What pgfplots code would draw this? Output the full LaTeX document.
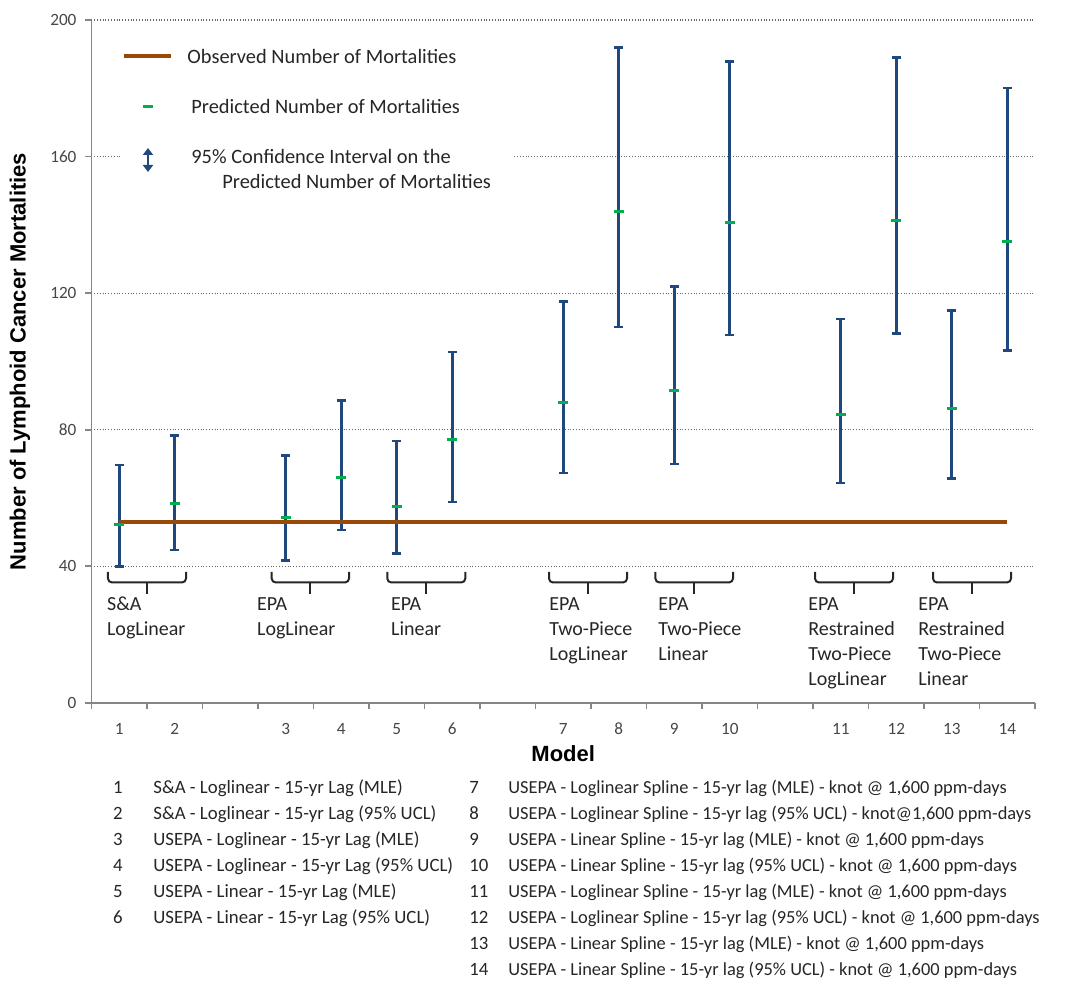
\documentclass[border=0pt]{standalone}
\usepackage{fontspec}
\setmainfont{Carlito}
\newfontfamily\arialfont{Liberation Sans}
\usepackage{pgfplots}
\usepackage{pgfplotstable}
\pgfplotsset{compat=1.18}
\usetikzlibrary{arrows.meta}
\definecolor{ebblue}{RGB}{31,73,125}
\definecolor{pgreen}{RGB}{0,176,80}
\definecolor{obsbrown}{RGB}{152,72,7}
\definecolor{axgray}{RGB}{134,134,134}
\definecolor{txt}{RGB}{38,38,38}
\definecolor{ticktxt}{RGB}{70,70,70}

% x = position on the category axis (empty slots at 3, 8, 13)
% pred = predicted, lo/hi = 95% confidence interval
\pgfplotstableread{
x  pred   lo     hi
1  52.2   39.9   69.7
2  58.5   44.8   78.4
4  54.3   41.7   72.5
5  66.1   50.6   88.5
6  57.4   43.7   76.7
7  77.1   58.9   102.8
9  88.0   67.3   117.5
10 143.9  110.1  191.9
11 91.5   70.0   122.0
12 140.6  107.8  187.9
14 84.4   64.4   112.5
15 141.4  108.2  189.0
16 86.2   65.8   114.9
17 135.0  103.2  180.1
}\datatable

\begin{document}
\begin{tikzpicture}
\begin{axis}[
  scale only axis,
  width=471.75pt, height=341.5pt,
  xmin=0.5, xmax=17.5, ymin=0, ymax=200,
  axis x line*=bottom, axis y line*=left,
  axis line style={axgray, line width=0.9pt, -},
  tick style={axgray, line width=0.9pt},
  tick align=outside,
  major tick length=3pt,
  xtick={0.5,1.5,...,17.5},
  xticklabels={},
  extra x ticks={1,2,4,5,6,7,9,10,11,12,14,15,16,17},
  extra x tick labels={1,2,3,4,5,6,7,8,9,10,11,12,13,14},
  extra x tick style={major tick length=0pt, grid=none},
  ytick={0,40,...,200},
  ymajorgrids,
  grid style={densely dotted, gray!80!black, line width=0.6pt},
  /pgf/number format/assume math mode=true,
  ticklabel style={font=\fontsize{8.6}{10}\selectfont, text=ticktxt},
  yticklabel style={xshift=-1pt},
  xticklabel style={yshift=-6.5pt},
  xlabel={Model},
  ylabel={Number of Lymphoid Cancer Mortalities},
  xlabel style={font=\arialfont\bfseries\fontsize{11}{13}\selectfont, at={(axis description cs:0.5,0)}, anchor=center, yshift=-25.5pt},
  ylabel style={font=\arialfont\bfseries\fontsize{11}{13}\selectfont, at={(axis description cs:0,0.5)}, anchor=center, yshift=35.75pt},
  clip=false,
]
% confidence intervals: vertical bars from lo to hi
\addplot[ebblue, line width=1.5pt, line cap=butt, mark=none,
  quiver={u=0, v={\thisrow{hi}-\thisrow{lo}}}]
  table[x=x, y=lo]{\datatable};
% confidence intervals: caps
\addplot[ebblue, only marks, mark=-, mark size=2.3pt, mark options={ebblue, line width=1.3pt}]
  table[x=x, y=lo]{\datatable};
\addplot[ebblue, only marks, mark=-, mark size=2.3pt, mark options={ebblue, line width=1.3pt}]
  table[x=x, y=hi]{\datatable};
% observed number of mortalities
\addplot[obsbrown, line width=2.2pt, mark=none] coordinates {(1,53) (17,53)};
% predicted number
\addplot[pgreen, only marks, mark=-, mark size=2.4pt, mark options={pgreen, line width=1.5pt}]
  table[x=x, y=pred]{\datatable};
\end{axis}

% annotations in pixel units of the reference
\begin{scope}[x=0.5pt, y=-0.5pt, shift={(-45.75pt,351.5pt)}]
  \path (0,0) rectangle (1088,984);
  % legend
  \fill[white] (122,36) rectangle (514,198);
  \draw[obsbrown, line width=2pt] (124,56) -- (171,56);
  \node[anchor=base west, inner sep=0, text=txt, font=\fontsize{10.2}{12}\selectfont] at (187,63.5) {Observed Number of Mortalities};
  \draw[pgreen, line width=1.5pt] (143,107) -- (153,107);
  \node[anchor=base west, inner sep=0, text=txt, font=\fontsize{10.2}{12}\selectfont] at (191,113.5) {Predicted Number of Mortalities};
  \draw[ebblue, line width=1.4pt, {Triangle[width=5pt,length=3.5pt]}-{Triangle[width=5pt,length=3.5pt]}] (148,148) -- (148,172);
  \node[anchor=base west, inner sep=0, text=txt, font=\fontsize{10.2}{12}\selectfont] at (191,163.5) {95\% Confidence Interval on the};
  \node[anchor=base west, inner sep=0, text=txt, font=\fontsize{10.2}{12}\selectfont] at (222,188.5) {Predicted Number of Mortalities};
  % brackets
  \foreach \a/\b in {108/186, 271.7/349, 387.3/465.3, 549/627, 655.4/733, 815/893, 933/1011}{
    \draw[txt, line width=1pt, rounded corners=2pt] (\a,572) -- (\a,582.5) -- (\b,582.5) -- (\b,572);
    \draw[txt, line width=1pt] ({(\a+\b)/2},582.5) -- ({(\a+\b)/2},594);
  }
  \tikzset{grp/.style={anchor=base west, inner sep=0, text=txt, font=\fontsize{10}{12}\selectfont}}
  \node[grp] at (106.7,611) {S\&A};
  \node[grp] at (106.7,636) {LogLinear};
  \node[grp] at (256.7,611) {EPA};
  \node[grp] at (256.7,636) {LogLinear};
  \node[grp] at (390.7,611) {EPA};
  \node[grp] at (390.7,636) {Linear};
  \node[grp] at (549,611) {EPA};
  \node[grp] at (549,636) {Two-Piece};
  \node[grp] at (549,661) {LogLinear};
  \node[grp] at (658,611) {EPA};
  \node[grp] at (658,636) {Two-Piece};
  \node[grp] at (658,661) {Linear};
  \node[grp] at (808,611) {EPA};
  \node[grp] at (808,636) {Restrained};
  \node[grp] at (808,661) {Two-Piece};
  \node[grp] at (808,686) {LogLinear};
  \node[grp] at (918,611) {EPA};
  \node[grp] at (918,636) {Restrained};
  \node[grp] at (918,661) {Two-Piece};
  \node[grp] at (918,686) {Linear};
  % model key
  \tikzset{num/.style={anchor=base, inner sep=0, text=txt, font=\fontsize{9.4}{11}\selectfont},
           lst/.style={anchor=base west, inner sep=0, text=txt, font=\fontsize{9.4}{11}\selectfont},
           lst2/.style={anchor=base west, inner sep=0, text=txt, font=\fontsize{9.2}{11}\selectfont}}
  \node[num] at (118,794) {1}; \node[lst] at (153,794) {S\&A - Loglinear - 15-yr Lag (MLE)};
  \node[num] at (118,820) {2}; \node[lst] at (153,820) {S\&A - Loglinear - 15-yr Lag (95\% UCL)};
  \node[num] at (118,846) {3}; \node[lst] at (153,846) {USEPA - Loglinear - 15-yr Lag (MLE)};
  \node[num] at (118,872) {4}; \node[lst] at (153,872) {USEPA - Loglinear - 15-yr Lag (95\% UCL)};
  \node[num] at (118,898) {5}; \node[lst] at (153,898) {USEPA - Linear - 15-yr Lag (MLE)};
  \node[num] at (118,924) {6}; \node[lst] at (153,924) {USEPA - Linear - 15-yr Lag (95\% UCL)};
  \node[lst] at (469,794) {7};  \node[lst2] at (508,794) {USEPA - Loglinear Spline - 15-yr lag (MLE) - knot @ 1,600 ppm-days};
  \node[lst] at (469,820) {8};  \node[lst2] at (508,820) {USEPA - Loglinear Spline - 15-yr lag (95\% UCL) - knot@1,600 ppm-days};
  \node[lst] at (469,846) {9};  \node[lst2] at (508,846) {USEPA - Linear Spline - 15-yr lag (MLE) - knot @ 1,600 ppm-days};
  \node[lst] at (469,872) {10}; \node[lst2] at (508,872) {USEPA - Linear Spline - 15-yr lag (95\% UCL) - knot @ 1,600 ppm-days};
  \node[lst] at (469,898) {11}; \node[lst2] at (508,898) {USEPA - Loglinear Spline - 15-yr lag (MLE) - knot @ 1,600 ppm-days};
  \node[lst] at (469,924) {12}; \node[lst2] at (508,924) {USEPA - Loglinear Spline - 15-yr lag (95\% UCL) - knot @ 1,600 ppm-days};
  \node[lst] at (469,950) {13}; \node[lst2] at (508,950) {USEPA - Linear Spline - 15-yr lag (MLE) - knot @ 1,600 ppm-days};
  \node[lst] at (469,976) {14}; \node[lst2] at (508,976) {USEPA - Linear Spline - 15-yr lag (95\% UCL) - knot @ 1,600 ppm-days};
\end{scope}
\end{tikzpicture}
\end{document}
